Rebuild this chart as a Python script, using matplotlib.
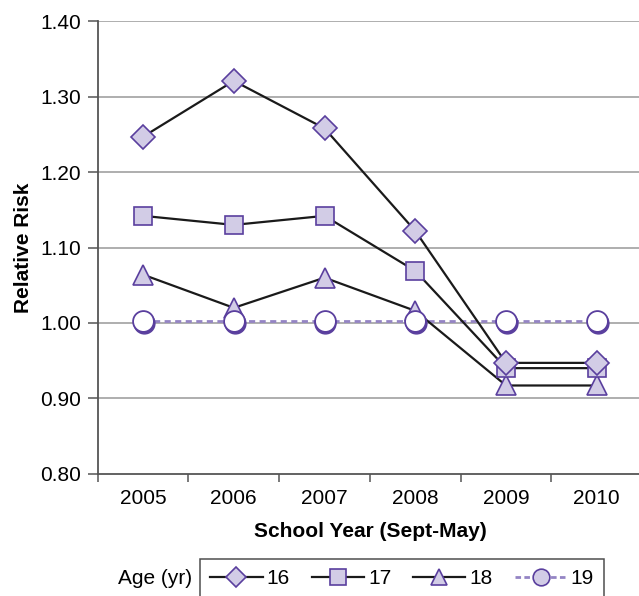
import matplotlib

matplotlib.use("Agg")
import matplotlib.pyplot as plt
import matplotlib.transforms as mtransforms
from matplotlib.lines import Line2D
import numpy as np

plt.rcParams["font.family"] = ["Liberation Sans", "DejaVu Sans"]

years = ["2005", "2006", "2007", "2008", "2009", "2010"]
age_labels = ["16", "17", "18", "19"]
risk_16 = [1.247, 1.321, 1.258, 1.122, 0.947, 0.947]
risk_17 = [1.142, 1.130, 1.142, 1.069, 0.940, 0.940]
risk_18 = [1.064, 1.020, 1.060, 1.016, 0.917, 0.917]
risk_19 = [1.003, 1.003, 1.003, 1.003, 1.003, 1.003]
y_ticks = [0.80, 0.90, 1.00, 1.10, 1.20, 1.30, 1.40]

purple = "#5a3f9e"
lavender = "#d2cce6"
dash_purple = "#9484c4"
grid_gray = "#a8a8a8"

x = np.arange(len(years))

fig = plt.figure(figsize=(6.39, 5.96), dpi=100)
ax = fig.add_axes([0.1529, 0.2052, 0.852, 0.759])

for yv in y_ticks[1:]:
    ax.axhline(yv, color=grid_gray, linewidth=1.3, zorder=0)

# connecting lines
ax.plot(x, risk_19, color=dash_purple, linewidth=2.0, linestyle=(0, (2.2, 1.6)), zorder=2)
for series in (risk_18, risk_17, risk_16):
    ax.plot(x, series, color="#1a1a1a", linewidth=1.6, zorder=2)

marker_kw = dict(linestyle="none", markerfacecolor=lavender,
                 markeredgecolor=purple, markeredgewidth=1.2, zorder=3)
ax.plot(x, risk_18, marker="^", markersize=14, **marker_kw)
ax.plot(x, risk_17, marker="s", markersize=13, **marker_kw)
ax.plot(x, risk_16, marker="D", markersize=12.5, **marker_kw)

# circles with a purple shadow underneath
shadow = mtransforms.offset_copy(ax.transData, fig=fig, x=0.8, y=-2.0, units="dots")
ax.plot(x, risk_19, marker="o", markersize=15, linestyle="none",
        markerfacecolor=purple, markeredgecolor=purple, transform=shadow, zorder=4)
ax.plot(x, risk_19, marker="o", markersize=15, linestyle="none",
        markerfacecolor="white", markeredgecolor=purple, markeredgewidth=1.3, zorder=5)

ax.set_ylim(0.80, 1.40)
ax.set_xlim(-0.5, 5.5)
ax.set_yticks(y_ticks)
ax.set_yticklabels([f"{v:.2f}" for v in y_ticks])
ax.set_xticks(np.arange(-0.5, 6.0, 1.0))
ax.set_xticklabels([])
ax.set_xticks(x, minor=True)
ax.set_xticklabels(years, minor=True)

ax.tick_params(axis="y", length=7, width=1.1, color="#555555", labelsize=15, pad=5)
ax.tick_params(axis="x", which="major", length=6, width=1.1, color="#555555")
ax.tick_params(axis="x", which="minor", length=0, labelsize=15, pad=11)

for side in ("top", "right"):
    ax.spines[side].set_visible(False)
for side in ("left", "bottom"):
    ax.spines[side].set_color("#555555")
    ax.spines[side].set_linewidth(1.3)

ax.set_ylabel("Relative Risk", fontsize=15, fontweight="bold", labelpad=5)
ax.set_xlabel("School Year (Sept-May)", fontsize=15, fontweight="bold", labelpad=10)

handles = [
    Line2D([], [], color="#1a1a1a", linewidth=1.6, marker="D", markersize=10,
           markerfacecolor=lavender, markeredgecolor=purple, markeredgewidth=1.2),
    Line2D([], [], color="#1a1a1a", linewidth=1.6, marker="s", markersize=11,
           markerfacecolor=lavender, markeredgecolor=purple, markeredgewidth=1.2),
    Line2D([], [], color="#1a1a1a", linewidth=1.6, marker="^", markersize=12,
           markerfacecolor=lavender, markeredgecolor=purple, markeredgewidth=1.2),
    Line2D([], [], color=dash_purple, linewidth=2.0, linestyle=(0, (2.0, 1.2)),
           marker="o", markersize=12, markerfacecolor=lavender,
           markeredgecolor=purple, markeredgewidth=1.2),
]
leg = fig.legend(handles, age_labels, loc="upper left", ncol=4,
                 bbox_to_anchor=(200 / 639, 1 - 559 / 596),
                 fontsize=15, frameon=True, fancybox=False, borderaxespad=0,
                 handlelength=2.5, handletextpad=0.2, columnspacing=1.05,
                 borderpad=0.5)
leg.get_frame().set_edgecolor("#222222")
leg.get_frame().set_linewidth(1.1)
fig.text(192 / 639, 1 - 579 / 596, "Age (yr)", fontsize=15, ha="right", va="center")

fig.savefig("out.png", dpi=100)
